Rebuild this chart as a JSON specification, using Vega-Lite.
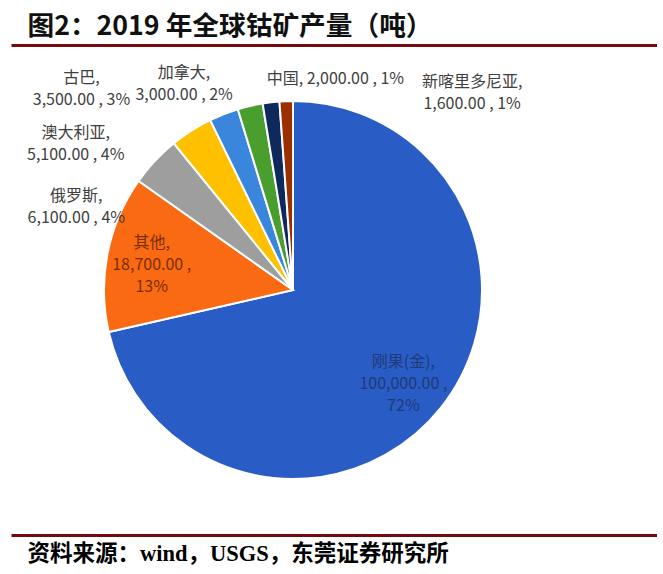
{
  "$schema": "https://vega.github.io/schema/vega-lite/v6.json",
  "padding": {"left": 11, "top": 13, "right": 0, "bottom": 0},
  "background": "white",
  "spacing": 1,
  "config": {"view": {"stroke": null}, "concat": {"spacing": 1}},
  "datasets": {
    "cobalt": [
      {"name": "刚果(金)", "value": 100000, "rank": 1, "label": "刚果(金),\n100,000.00 ,\n72%"},
      {"name": "其他", "value": 18700, "rank": 2, "label": "其他,\n18,700.00 ,\n13%"},
      {"name": "俄罗斯", "value": 6100, "rank": 3, "label": "俄罗斯,\n6,100.00 , 4%"},
      {"name": "澳大利亚", "value": 5100, "rank": 4, "label": "澳大利亚,\n5,100.00 , 4%"},
      {"name": "古巴", "value": 3500, "rank": 5, "label": "古巴,\n3,500.00 , 3%"},
      {"name": "加拿大", "value": 3000, "rank": 6, "label": "加拿大,\n3,000.00 , 2%"},
      {"name": "中国", "value": 2000, "rank": 7, "label": "中国, 2,000.00 , 1%"},
      {"name": "新喀里多尼亚", "value": 1600, "rank": 8, "label": "新喀里多尼亚,\n1,600.00 , 1%"}
    ]
  },
  "vconcat": [
    {
      "width": 646,
      "height": 1,
      "data": {"values": [{}]},
      "mark": {"type": "point", "opacity": 0, "size": 0},
      "encoding": {
        "x": {
          "datum": 0,
          "type": "quantitative",
          "scale": {"domain": [0, 1]},
          "axis": {
            "orient": "top",
            "domain": true,
            "domainColor": "#720A0E",
            "domainWidth": 3,
            "ticks": false,
            "labels": false,
            "grid": false,
            "title": "图2：2019 年全球钴矿产量（吨）",
            "titleFont": "Noto Sans CJK SC",
            "titleFontSize": 26.7,
            "titleFontWeight": "bold",
            "titleColor": "#111111",
            "titleAnchor": "start",
            "titleAlign": "left",
            "titleX": 16,
            "titlePadding": 5
          }
        }
      }
    },
    {
      "width": 564,
      "height": 486,
      "data": {"name": "cobalt"},
      "encoding": {
        "theta": {"field": "value", "type": "quantitative", "stack": true},
        "order": {"field": "rank", "type": "quantitative"}
      },
      "layer": [
        {
          "mark": {"type": "arc", "outerRadius": 189, "stroke": "white", "strokeWidth": 2},
          "encoding": {
            "color": {
              "field": "name",
              "type": "nominal",
              "scale": {
                "domain": ["刚果(金)", "其他", "俄罗斯", "澳大利亚", "古巴", "加拿大", "中国", "新喀里多尼亚"],
                "range": ["#2A5CC5", "#FA6A13", "#9E9E9E", "#FFC000", "#3A86DC", "#4A9E2E", "#0E2A5C", "#9C2F00"]
              },
              "legend": null
            }
          }
        },
        {
          "mark": {"type": "text", "clip": true, "radius": 145, "dx": -3, "dy": -18, "font": "Noto Sans CJK SC", "fontSize": 16, "lineBreak": "\n", "lineHeight": 22, "color": "#1E3A78", "align": "center", "baseline": "middle"},
          "encoding": {"text": {"condition": {"test": "datum.name === '刚果(金)'", "field": "label"}, "value": ""}}
        },
        {
          "mark": {"type": "text", "clip": true, "radius": 143, "dx": -1, "dy": -19, "font": "Noto Sans CJK SC", "fontSize": 16, "lineBreak": "\n", "lineHeight": 22, "color": "#7A2E00", "align": "center", "baseline": "middle"},
          "encoding": {"text": {"condition": {"test": "datum.name === '其他'", "field": "label"}, "value": ""}}
        },
        {
          "mark": {"type": "text", "clip": true, "radius": 220, "dx": -56, "dy": 56, "font": "Noto Sans CJK SC", "fontSize": 16, "lineBreak": "\n", "lineHeight": 22, "color": "#404040", "align": "center", "baseline": "middle"},
          "encoding": {"text": {"condition": {"test": "datum.name === '俄罗斯'", "field": "label"}, "value": ""}}
        },
        {
          "mark": {"type": "text", "clip": true, "radius": 220, "dx": -99, "dy": 28, "font": "Noto Sans CJK SC", "fontSize": 16, "lineBreak": "\n", "lineHeight": 22, "color": "#404040", "align": "center", "baseline": "middle"},
          "encoding": {"text": {"condition": {"test": "datum.name === '澳大利亚'", "field": "label"}, "value": ""}}
        },
        {
          "mark": {"type": "text", "clip": true, "radius": 220, "dx": -131, "dy": -7, "font": "Noto Sans CJK SC", "fontSize": 16, "lineBreak": "\n", "lineHeight": 22, "color": "#404040", "align": "center", "baseline": "middle"},
          "encoding": {"text": {"condition": {"test": "datum.name === '古巴'", "field": "label"}, "value": ""}}
        },
        {
          "mark": {"type": "text", "clip": true, "radius": 220, "dx": -59, "dy": -3, "font": "Noto Sans CJK SC", "fontSize": 16, "lineBreak": "\n", "lineHeight": 22, "color": "#404040", "align": "center", "baseline": "middle"},
          "encoding": {"text": {"condition": {"test": "datum.name === '加拿大'", "field": "label"}, "value": ""}}
        },
        {
          "mark": {"type": "text", "clip": true, "radius": 220, "dx": 68, "dy": 8, "font": "Noto Sans CJK SC", "fontSize": 16, "lineBreak": "\n", "lineHeight": 22, "color": "#404040", "align": "center", "baseline": "middle"},
          "encoding": {"text": {"condition": {"test": "datum.name === '中国'", "field": "label"}, "value": ""}}
        },
        {
          "mark": {"type": "text", "clip": true, "radius": 220, "dx": 187, "dy": 12, "font": "Noto Sans CJK SC", "fontSize": 16, "lineBreak": "\n", "lineHeight": 22, "color": "#404040", "align": "center", "baseline": "middle"},
          "encoding": {"text": {"condition": {"test": "datum.name === '新喀里多尼亚'", "field": "label"}, "value": ""}}
        }
      ]
    },
    {
      "width": 646,
      "height": 1,
      "data": {"values": [{}]},
      "mark": {"type": "point", "opacity": 0, "size": 0},
      "encoding": {
        "x": {
          "datum": 0,
          "type": "quantitative",
          "scale": {"domain": [0, 1]},
          "axis": {
            "orient": "bottom",
            "domain": true,
            "domainColor": "#720A0E",
            "domainWidth": 3,
            "ticks": false,
            "labels": false,
            "grid": false,
            "title": "资料来源：wind，USGS，东莞证券研究所",
            "titleFont": "Liberation Serif, Noto Sans CJK SC",
            "titleFontSize": 22.5,
            "titleFontWeight": "bold",
            "titleColor": "#000000",
            "titleAnchor": "start",
            "titleAlign": "left",
            "titleX": 16,
            "titlePadding": 7
          }
        }
      }
    }
  ]
}
